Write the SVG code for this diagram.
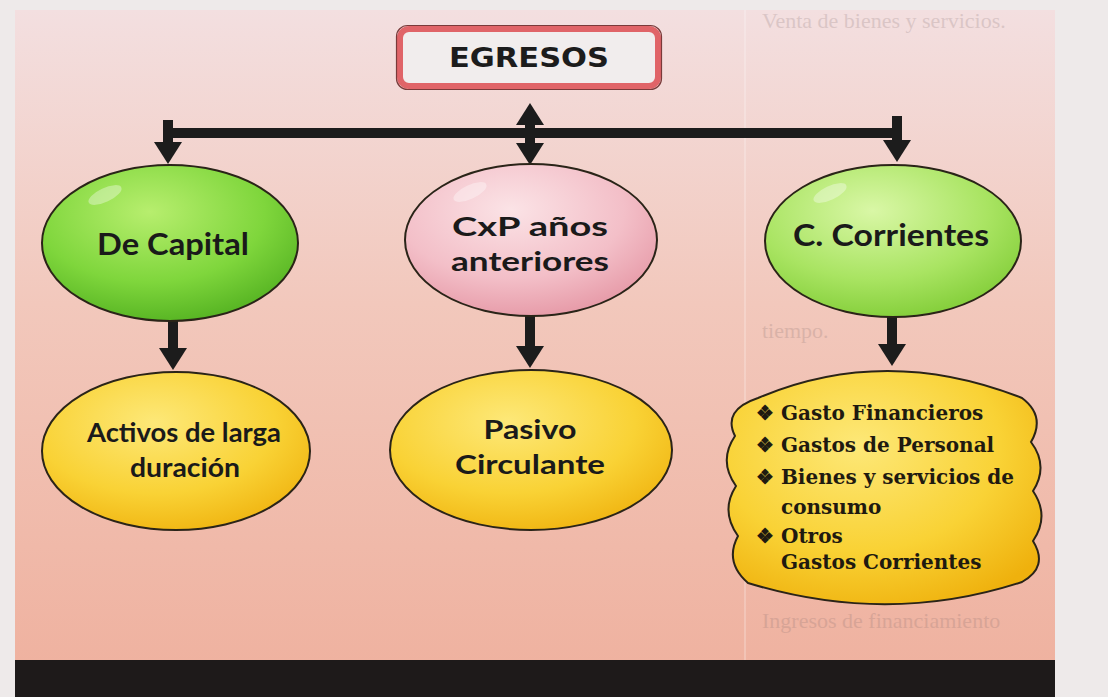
<svg xmlns="http://www.w3.org/2000/svg" width="1108" height="697" viewBox="0 0 1108 697">
<defs>
<linearGradient id="panel" x1="0" y1="0" x2="0" y2="1">
<stop offset="0" stop-color="#f3dfe0"/>
<stop offset="0.45" stop-color="#f2c8bc"/>
<stop offset="1" stop-color="#efb2a0"/>
</linearGradient>
<radialGradient id="gDark" cx="0.42" cy="0.3" r="0.75">
<stop offset="0" stop-color="#b7ee6e"/>
<stop offset="0.6" stop-color="#7fd63c"/>
<stop offset="1" stop-color="#52b020"/>
</radialGradient>
<radialGradient id="gLight" cx="0.42" cy="0.3" r="0.75">
<stop offset="0" stop-color="#d9f7a6"/>
<stop offset="0.6" stop-color="#a9e462"/>
<stop offset="1" stop-color="#80cc36"/>
</radialGradient>
<radialGradient id="gPink" cx="0.42" cy="0.3" r="0.75">
<stop offset="0" stop-color="#fbe3e6"/>
<stop offset="0.6" stop-color="#f3bfc8"/>
<stop offset="1" stop-color="#e596a4"/>
</radialGradient>
<radialGradient id="gYellow" cx="0.42" cy="0.32" r="0.75">
<stop offset="0" stop-color="#fde878"/>
<stop offset="0.6" stop-color="#f9d235"/>
<stop offset="1" stop-color="#efb10d"/>
</radialGradient>
<marker id="ah" markerUnits="userSpaceOnUse" markerWidth="22" markerHeight="28" refX="1" refY="14" orient="auto-start-reverse" viewBox="0 0 22 28">
<path d="M0,0 L22,14 L0,28 Z" fill="#1c1c1c"/>
</marker>
<style>
.ghost{font-family:"Liberation Serif",serif;font-size:22px;fill:#7a6666;opacity:0.2}
.node{stroke:#2a2418;stroke-width:2}
.lbl{font-family:Lato,"Open Sans",sans-serif;font-weight:700;font-size:31px;fill:#1a1a1a;text-anchor:middle}
.lb2{font-family:Lato,"Open Sans",sans-serif;font-weight:700;font-size:27px;fill:#1a1a1a;text-anchor:middle}
.lst{font-family:"DejaVu Serif","Liberation Serif",serif;font-weight:700;font-size:20px;fill:#1f1a10}
.conn{stroke:#1c1c1c;stroke-width:10;fill:none}
.gloss{fill:#ffffff;opacity:0.35}
</style>
</defs>

<rect x="0" y="0" width="1108" height="697" fill="#eeeaea"/>
<rect x="15" y="10" width="1040" height="652" fill="url(#panel)"/>
<line x1="745" y1="10" x2="745" y2="662" stroke="#ffffff" stroke-width="1.5" opacity="0.3"/>
<rect x="15" y="660" width="1040" height="37" fill="#1e1a1a"/>

<g id="ghost-text">
<text class="ghost" x="762" y="28">Venta de bienes y servicios.</text>
<text class="ghost" x="762" y="338">tiempo.</text>
<text class="ghost" x="762" y="628">Ingresos de financiamiento</text>
</g>

<g id="connectors">
<line class="conn" x1="163" y1="133" x2="902" y2="133"/>
<line class="conn" x1="168" y1="120" x2="168" y2="143" marker-end="url(#ah)"/>
<line class="conn" x1="897" y1="116" x2="897" y2="141" marker-end="url(#ah)"/>
<line class="conn" x1="530" y1="124" x2="530" y2="144" marker-start="url(#ah)" marker-end="url(#ah)"/>
<line class="conn" x1="173" y1="320" x2="173" y2="349" marker-end="url(#ah)"/>
<line class="conn" x1="530" y1="314" x2="530" y2="347" marker-end="url(#ah)"/>
<line class="conn" x1="892" y1="316" x2="892" y2="345" marker-end="url(#ah)"/>
</g>

<g id="egresos">
<rect x="400" y="29" width="258" height="57" rx="9" fill="#f1eded" stroke="#e06468" stroke-width="6"/>
<rect x="396.5" y="25.5" width="265" height="64" rx="11" fill="none" stroke="#7a3a3a" stroke-width="1.2"/>
<text x="529" y="67" font-family="'DejaVu Sans',sans-serif" font-weight="700" font-size="26" fill="#1c1c1c" text-anchor="middle" textLength="160" lengthAdjust="spacingAndGlyphs">EGRESOS</text>
</g>

<g id="de-capital">
<ellipse class="node" cx="170" cy="243" rx="128" ry="78" fill="url(#gDark)"/>
<ellipse class="gloss" cx="105" cy="195" rx="18" ry="7" transform="rotate(-25 105 195)"/>
<text class="lbl" x="173" y="255" textLength="152" lengthAdjust="spacingAndGlyphs">De Capital</text>
</g>

<g id="cxp">
<ellipse class="node" cx="531" cy="240" rx="126" ry="76" fill="url(#gPink)"/>
<ellipse class="gloss" cx="470" cy="192" rx="18" ry="7" transform="rotate(-25 470 192)"/>
<text class="lb2" x="530" y="236" textLength="156" lengthAdjust="spacingAndGlyphs">CxP años</text>
<text class="lb2" x="530" y="271" textLength="158" lengthAdjust="spacingAndGlyphs">anteriores</text>
</g>

<g id="c-corrientes">
<ellipse class="node" cx="893" cy="241" rx="128" ry="76" fill="url(#gLight)"/>
<ellipse class="gloss" cx="830" cy="193" rx="18" ry="7" transform="rotate(-25 830 193)"/>
<text class="lbl" x="891" y="246" textLength="196" lengthAdjust="spacingAndGlyphs">C. Corrientes</text>
</g>

<g id="activos">
<ellipse class="node" cx="176" cy="451" rx="134" ry="79" fill="url(#gYellow)"/>
<text class="lb2" x="184" y="442" textLength="194" lengthAdjust="spacingAndGlyphs">Activos de larga</text>
<text class="lb2" x="185" y="477" textLength="110" lengthAdjust="spacingAndGlyphs">duración</text>
</g>

<g id="pasivo">
<ellipse class="node" cx="531" cy="450" rx="141" ry="80" fill="url(#gYellow)"/>
<text class="lb2" x="530" y="439" textLength="93" lengthAdjust="spacingAndGlyphs">Pasivo</text>
<text class="lb2" x="530" y="474" textLength="150" lengthAdjust="spacingAndGlyphs">Circulante</text>
</g>

<g id="gastos-corrientes">
<path class="node" fill="url(#gYellow)" d="M 758 398 Q 885 344 1022 398 Q 1046 416 1031 442 Q 1049 466 1033 491 Q 1050 516 1033 541 Q 1049 567 1022 582 Q 888 626 748 583 Q 724 562 738 536 Q 720 511 736 486 Q 718 461 735 436 Q 722 410 758 398 Z"/>
<text class="lst" x="756" y="420">❖ Gasto Financieros</text>
<text class="lst" x="756" y="452">❖ Gastos de Personal</text>
<text class="lst" x="756" y="484">❖ Bienes y servicios de</text>
<text class="lst" x="781" y="514">consumo</text>
<text class="lst" x="756" y="543">❖ Otros</text>
<text class="lst" x="781" y="569">Gastos Corrientes</text>
</g>
</svg>
